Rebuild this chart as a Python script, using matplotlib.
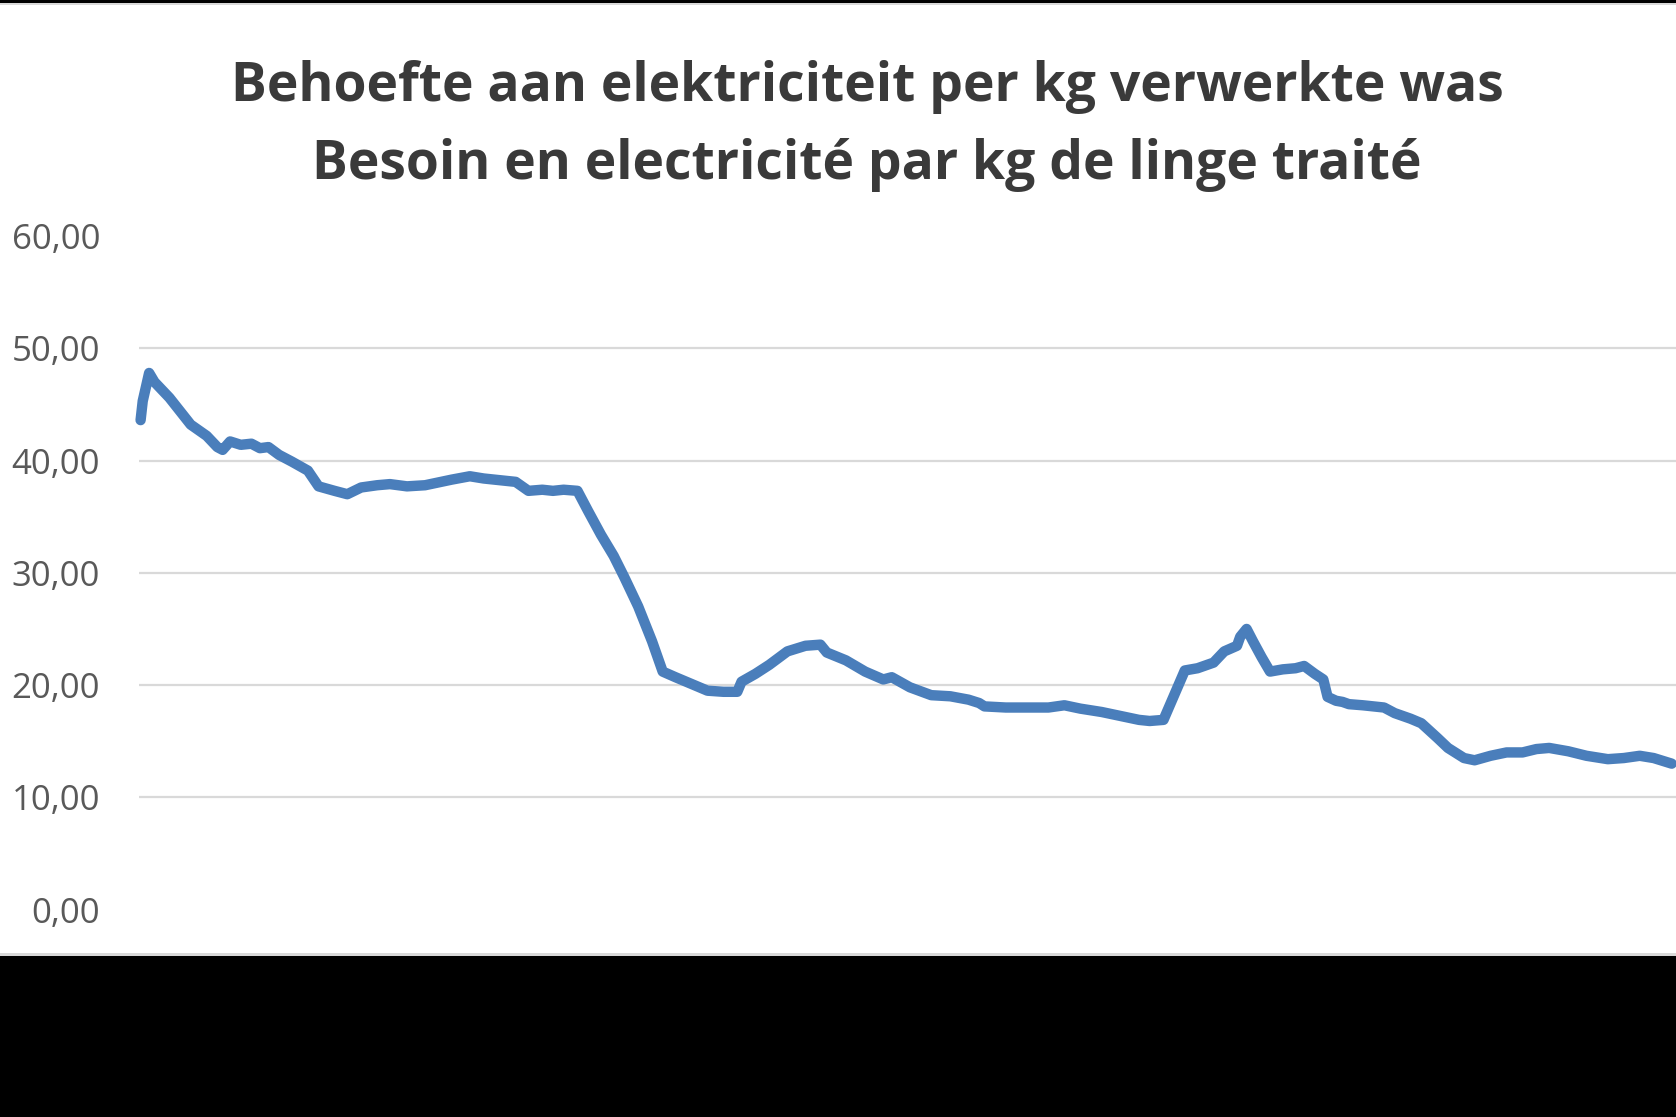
import matplotlib
matplotlib.use("Agg")
import matplotlib.pyplot as plt
from matplotlib import font_manager
from matplotlib.patches import Rectangle

# data (x = position along the period, y = kWh per kg)
dag = [0, 2, 8, 13, 20, 27, 37, 47, 62, 72, 77, 84, 94, 104, 112, 120, 130,
       142, 157, 167, 182, 194, 207, 222, 234, 250, 267, 277, 292, 309, 322,
       342, 352, 364, 377, 387, 397, 410, 420, 432, 444, 454, 467, 480, 490,
       502, 517, 532, 547, 560, 564, 577, 590, 607, 624, 638, 644, 662, 680,
       697, 705, 722, 742, 760, 777, 787, 792, 812, 832, 852, 867, 882, 902,
       922, 937, 947, 960, 970, 980, 992, 1007, 1017, 1029, 1032, 1038, 1044,
       1052, 1060, 1072, 1084, 1092, 1102, 1110, 1114, 1122, 1128, 1134, 1147,
       1167, 1177, 1192, 1202, 1217, 1227, 1242, 1252, 1267, 1282, 1297, 1310,
       1322, 1340, 1357, 1377, 1392, 1407, 1420, 1437]
kwh_per_kg = [43.6, 45.3, 47.8, 47.0, 46.3, 45.6, 44.4, 43.2, 42.2, 41.2,
              40.95, 41.7, 41.4, 41.5, 41.1, 41.2, 40.5, 39.9, 39.1, 37.7,
              37.3, 37.0, 37.6, 37.8, 37.9, 37.7, 37.8, 38.0, 38.3, 38.6,
              38.4, 38.2, 38.1, 37.3, 37.4, 37.3, 37.4, 37.3, 35.5, 33.4,
              31.5, 29.6, 27.0, 23.9, 21.2, 20.7, 20.1, 19.5, 19.4, 19.4,
              20.3, 21.0, 21.8, 23.0, 23.5, 23.6, 22.9, 22.2, 21.2, 20.5,
              20.7, 19.8, 19.1, 19.0, 18.7, 18.4, 18.1, 18.0, 18.0, 18.0,
              18.2, 17.9, 17.6, 17.2, 16.9, 16.8, 16.9, 19.1, 21.3, 21.5,
              22.0, 23.0, 23.5, 24.3, 25.0, 23.9, 22.5, 21.2, 21.4, 21.5,
              21.7, 21.0, 20.5, 18.95, 18.6, 18.5, 18.3, 18.2, 18.0, 17.5,
              17.0, 16.6, 15.3, 14.4, 13.5, 13.3, 13.7, 14.0, 14.0, 14.3,
              14.4, 14.1, 13.7, 13.4, 13.5, 13.7, 13.5, 13.0]
y_ticks = [0, 10, 20, 30, 40, 50, 60]
title_nl = "Behoefte aan elektriciteit per kg verwerkte was"
title_fr = "Besoin en electricité par kg de linge traité"

# pick a narrow font for the title if there is one
names = {f.name for f in font_manager.fontManager.ttflist}
if "Liberation Sans Narrow" in names:
    title_font, title_size = "Liberation Sans Narrow", 39
else:
    title_font, title_size = "Open Sans", 38.5

W, H = 1676, 1117
fig = plt.figure(figsize=(W / 100, H / 100), dpi=100)
fig.patch.set_facecolor("black")

# white chart area with thin grey borders, black below
fig.patches.append(Rectangle((0, 1 - 5 / H), 1, 2 / H, transform=fig.transFigure,
                             facecolor="#d9d9d9", edgecolor="none", zorder=-10))
fig.patches.append(Rectangle((0, 1 - 956 / H), 1, 3 / H, transform=fig.transFigure,
                             facecolor="#d9d9d9", edgecolor="none", zorder=-10))
fig.patches.append(Rectangle((0, 1 - 953 / H), 1, 948 / H, transform=fig.transFigure,
                             facecolor="white", edgecolor="none", zorder=-10))

ax = fig.add_axes([139 / W, 1 - 909.6 / H, 1 - 139 / W, (909.6 - 236) / H])
ax.set_facecolor("none")

ax.plot(dag, kwh_per_kg, color="#4a7ebb", linewidth=7.5,
        solid_capstyle="round", solid_joinstyle="round", zorder=3, clip_on=False)

ax.set_ylim(0, 60)
ax.set_xlim(-1.5, 1441)
ax.set_yticks(y_ticks)
ax.set_yticklabels([f"{v:.2f}".replace(".", ",") for v in y_ticks])
ax.set_xticks([])
for v in y_ticks[1:-1]:
    ax.axhline(v, color="#d9d9d9", linewidth=1.6, zorder=1)

for s in ax.spines.values():
    s.set_visible(False)
ax.tick_params(axis="y", length=0, pad=28, labelsize=25, labelcolor="#595959")
for lab in ax.get_yticklabels():
    lab.set_family("Open Sans")

fig.text(867 / W, 1 - 101.5 / H, title_nl, ha="center", va="baseline",
         fontsize=title_size, fontweight="bold", family=title_font, color="#3a3a3a")
fig.text(867 / W, 1 - 178.5 / H, title_fr, ha="center", va="baseline",
         fontsize=title_size, fontweight="bold", family=title_font, color="#3a3a3a")

fig.savefig("out.png", dpi=100, facecolor=fig.get_facecolor())
